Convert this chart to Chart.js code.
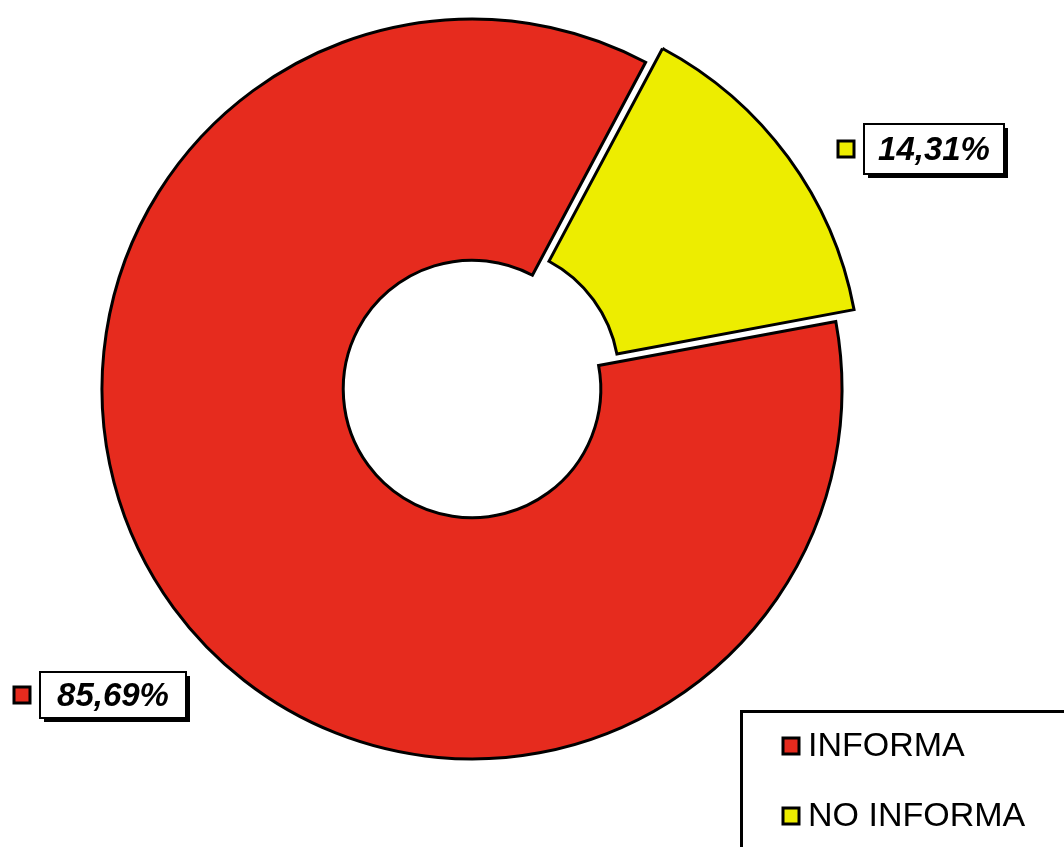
<!DOCTYPE html>
<html>
<head>
<meta charset="utf-8">
<script src="https://cdn.jsdelivr.net/npm/chart.js@4/dist/chart.umd.min.js"></script>
<style>
  html, body { margin: 0; padding: 0; background: #fff; }
  #wrap { width: 1064px; height: 847px; }
</style>
</head>
<body>
<div id="wrap"><canvas id="myChart" width="1064" height="847"></canvas></div>
<script>
const categories = ['INFORMA', 'NO INFORMA'];
const values = [85.69, 14.31];
const valueLabels = ['85,69%', '14,31%'];
const colors = ['#e62b1e', '#eded00'];

// where each value label box sits (canvas px)
const labelBoxes = [
  { x: 40, y: 672, w: 146, h: 46 },
  { x: 864, y: 124, w: 140, h: 50 }
];

function boxedLabel (ctx, b, text, color) {
  ctx.save();
  ctx.fillStyle = '#fff';
  ctx.fillRect(b.x, b.y, b.w, b.h);
  ctx.strokeStyle = '#000';
  ctx.lineWidth = 2;
  ctx.strokeRect(b.x, b.y, b.w, b.h);
  // drop shadow on right and bottom
  ctx.lineWidth = 3;
  ctx.beginPath();
  ctx.moveTo(b.x + 4, b.y + b.h + 2.5);
  ctx.lineTo(b.x + b.w + 2.5, b.y + b.h + 2.5);
  ctx.lineTo(b.x + b.w + 2.5, b.y + 4);
  ctx.stroke();
  // colour key square
  ctx.fillStyle = color;
  ctx.lineWidth = 3;
  ctx.fillRect(b.x - 26, b.y + b.h / 2 - 8, 16, 16);
  ctx.strokeRect(b.x - 26, b.y + b.h / 2 - 8, 16, 16);
  ctx.fillStyle = '#000';
  ctx.font = 'italic bold 33px "Liberation Sans", Arial, sans-serif';
  ctx.textAlign = 'center';
  ctx.textBaseline = 'middle';
  ctx.fillText(text, b.x + b.w / 2, b.y + b.h / 2 + 2);
  ctx.restore();
}

const annotations = {
  id: 'annotations',
  afterDraw (chart) {
    const ctx = chart.ctx;
    const labels = chart.data.labels;
    const ds = chart.data.datasets[0];

    labelBoxes.forEach((b, i) => boxedLabel(ctx, b, valueLabels[i], ds.backgroundColor[i]));

    // legend box, bottom right, runs off the edge
    ctx.save();
    ctx.fillStyle = '#fff';
    ctx.fillRect(740, 711, 340, 150);
    ctx.strokeStyle = '#000';
    ctx.lineWidth = 3;
    ctx.strokeRect(741.5, 711.5, 340, 150);
    ctx.font = '34px "Liberation Sans", Arial, sans-serif';
    ctx.textBaseline = 'middle';
    labels.forEach((lab, i) => {
      const y = 746 + i * 70;
      ctx.fillStyle = ds.backgroundColor[i];
      ctx.fillRect(783, y - 8, 16, 16);
      ctx.lineWidth = 3;
      ctx.strokeRect(783, y - 8, 16, 16);
      ctx.fillStyle = '#000';
      ctx.fillText(lab, 808, y + 1);
    });
    ctx.restore();
  }
};

new Chart(document.getElementById('myChart'), {
  type: 'doughnut',
  data: {
    labels: categories,
    datasets: [{
      data: values,
      backgroundColor: colors,
      borderColor: '#000',
      borderWidth: 3,
      borderJoinStyle: 'miter',
      // chart.js v4 moves an arc by offset / 4
      offset: [0, 72],
      hoverOffset: 0
    }]
  },
  options: {
    responsive: false,
    animation: false,
    rotation: 79.5,
    radius: 370,
    cutout: '34.8%',
    layout: { padding: { left: 0, top: 0, right: 120, bottom: 69 } },
    events: [],
    plugins: {
      legend: { display: false },
      tooltip: { enabled: false }
    }
  },
  plugins: [annotations]
});
</script>
</body>
</html>
